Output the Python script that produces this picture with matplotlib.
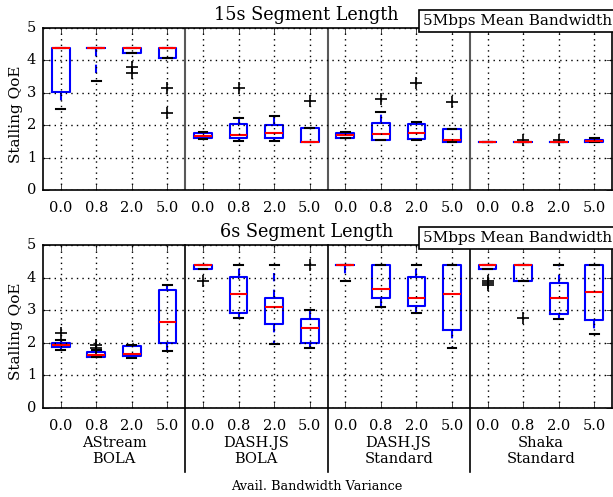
import matplotlib
matplotlib.use('Agg')
import matplotlib.pyplot as plt

plt.style.use('classic')
plt.rcParams['font.family'] = ['DejaVu Serif']
plt.rcParams['figure.facecolor'] = 'white'
plt.rcParams['savefig.facecolor'] = 'white'

variances = ['0.0', '0.8', '2.0', '5.0']
players = ['AStream\nBOLA', 'DASH.JS\nBOLA', 'DASH.JS\nStandard', 'Shaka\nStandard']

# 15s segments: per box (4 players x 4 variances)
med_15 = [4.39, 4.39, 4.39, 4.39,  1.67, 1.71, 1.77, 1.48,  1.69, 1.73, 1.75, 1.53,  1.48, 1.48, 1.48, 1.52]
q1_15 = [3.03, 4.39, 4.24, 4.07,  1.59, 1.61, 1.59, 1.48,  1.61, 1.55, 1.58, 1.48,  1.48, 1.48, 1.48, 1.47]
q3_15 = [4.39, 4.39, 4.39, 4.39,  1.75, 2.05, 2.00, 1.91,  1.76, 2.08, 2.04, 1.87,  1.48, 1.48, 1.48, 1.55]
lo_15 = [2.50, 3.35, 4.24, 4.07,  1.58, 1.52, 1.52, 1.48,  1.59, 1.53, 1.53, 1.48,  1.48, 1.48, 1.48, 1.47]
hi_15 = [4.39, 4.39, 4.39, 4.39,  1.78, 2.23, 2.27, 1.91,  1.79, 2.40, 2.11, 1.87,  1.48, 1.48, 1.48, 1.60]
fl_15 = [[], [], [3.81, 3.61], [3.16, 2.37],
         [], [3.14], [], [2.75],
         [], [2.82], [3.30], [2.73],
         [], [1.53], [1.55], []]

# 6s segments
med_6 = [1.93, 1.64, 1.66, 2.65,  4.40, 3.50, 3.11, 2.44,  4.39, 3.66, 3.36, 3.50,  4.39, 4.39, 3.36, 3.57]
q1_6 = [1.87, 1.57, 1.59, 1.99,  4.26, 2.91, 2.58, 1.98,  4.39, 3.36, 3.14, 2.40,  4.26, 3.90, 2.89, 2.71]
q3_6 = [1.98, 1.72, 1.90, 3.62,  4.40, 4.01, 3.37, 2.73,  4.39, 4.39, 4.01, 4.39,  4.39, 4.39, 3.83, 4.39]
lo_6 = [1.77, 1.55, 1.53, 1.76,  4.26, 2.77, 1.96, 1.84,  3.90, 3.10, 2.90, 1.84,  4.26, 3.90, 2.72, 2.27]
hi_6 = [2.08, 1.77, 1.93, 3.77,  4.40, 4.40, 4.40, 3.00,  4.39, 4.39, 4.39, 4.39,  4.39, 4.39, 4.39, 4.39]
fl_6 = [[2.31], [1.85, 1.93], [], [],
        [3.90], [], [], [4.40],
        [], [], [], [],
        [3.90, 3.83, 3.77], [2.75], [], []]


def make_stats(med, q1, q3, lo, hi, fl):
    return [dict(med=m, q1=a, q3=b, whislo=l, whishi=h, fliers=f)
            for m, a, b, l, h, f in zip(med, q1, q3, lo, hi, fl)]


fig = plt.figure(figsize=(6.13, 4.97), dpi=100)
ax1 = fig.add_axes([43/613, 1-190/497, 569/613, 162/497])
ax2 = fig.add_axes([43/613, 1-408/497, 569/613, 163/497])

positions = list(range(1, 17))
for ax, stats, title, bottom in [
        (ax1, make_stats(med_15, q1_15, q3_15, lo_15, hi_15, fl_15), '15s Segment Length', False),
        (ax2, make_stats(med_6, q1_6, q3_6, lo_6, hi_6, fl_6), '6s Segment Length', True)]:
    ax.bxp(stats, positions=positions, widths=0.5, showfliers=True,
           boxprops=dict(color='b', linewidth=1.5),
           whiskerprops=dict(color='b', linestyle='--', linewidth=1.5),
           capprops=dict(color='k', linewidth=1.5),
           medianprops=dict(color='r', linewidth=1.5),
           flierprops=dict(marker='+', markeredgecolor='k', markersize=9, markeredgewidth=1.2))
    ax.set_xlim(0.5, 16.5)
    ax.set_ylim(0, 5)
    ax.set_yticks(range(6))
    ax.set_xticks(positions)
    ax.set_xticklabels(variances * 4)
    ax.tick_params(axis='x', labelsize=10.5, pad=8)
    ax.tick_params(axis='y', labelsize=10.5, pad=5)
    ax.grid(True, color='k', linestyle=':', linewidth=1)
    ax.set_ylabel('Stalling QoE', fontsize=11)
    ax.yaxis.set_label_coords(-20/569, 0.47)
    for s in ax.spines.values():
        s.set_linewidth(1.2)
    # group separators
    for xs in [4.5, 8.5, 12.5]:
        if bottom:
            ax.plot([xs, xs], [5, -1.95], color='k', linewidth=1.2, clip_on=False)
        else:
            ax.axvline(xs, color='0.35', linewidth=1.5)
    ax.text(1.0, 1.0, '5Mbps Mean Bandwidth', transform=ax.transAxes,
            ha='right', va='bottom', fontsize=11,
            bbox=dict(boxstyle='square,pad=0.25', facecolor='white', edgecolor='k', linewidth=1.2))
    pos = ax.get_position()
    fig.text(0.5, pos.y1 + 0.008, title, ha='center', va='bottom', fontsize=12.7)

for i, p in enumerate(players):
    ax2.text(2.5 + 4*i, -0.85, p, ha='center', va='top', fontsize=10.5)

fig.text(317/613, 1-487/497, 'Avail. Bandwidth Variance', ha='center', va='center', fontsize=9.3)

fig.savefig('out.png', dpi=100)
